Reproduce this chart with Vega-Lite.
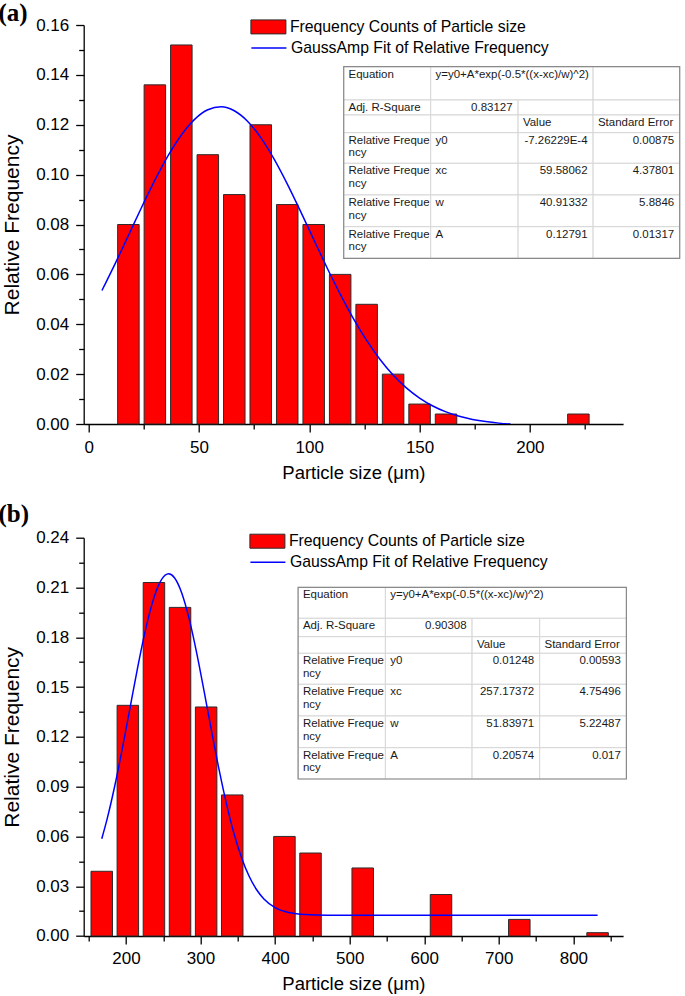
{
  "$schema": "https://vega.github.io/schema/vega-lite/v6.json",
  "background": "white",
  "padding": {"left": -2.3, "top": 0, "right": 0, "bottom": 0},
  "spacing": 19.7,
  "resolve": {"scale": {"fill": "independent", "stroke": "independent"}, "legend": {"fill": "independent", "stroke": "independent"}},
  "config": {
    "view": {"stroke": null},
    "font": "Liberation Sans",
    "axis": {
      "domainColor": "#000000", "domainWidth": 1.3, "tickColor": "#000000", "tickWidth": 1.3,
      "labelColor": "#000000", "titleColor": "#000000", "labelFont": "Liberation Sans", "titleFont": "Liberation Sans",
      "titleFontWeight": "normal", "grid": false, "labelFontSize": 17, "labelPadding": 7, "labelOverlap": false, "labelFlush": false
    },
    "legend": {"labelFont": "Liberation Sans", "labelFontSize": 15.8, "labelColor": "#000000", "labelOffset": 3.5, "labelLimit": 500, "padding": 0, "orient": "none"}
  },
  "datasets": {
    "barsA": [
      {"size": 18, "freq": 0.080}, {"size": 30, "freq": 0.136}, {"size": 42, "freq": 0.152}, {"size": 54, "freq": 0.108},
      {"size": 66, "freq": 0.092}, {"size": 78, "freq": 0.120}, {"size": 90, "freq": 0.088}, {"size": 102, "freq": 0.080},
      {"size": 114, "freq": 0.060}, {"size": 126, "freq": 0.048}, {"size": 138, "freq": 0.020}, {"size": 150, "freq": 0.008},
      {"size": 162, "freq": 0.004}, {"size": 222, "freq": 0.004}
    ],
    "fitA": [
      {"x": 6, "y": 0.05353}, {"x": 12, "y": 0.06432}, {"x": 18, "y": 0.07559}, {"x": 24, "y": 0.08691},
      {"x": 30, "y": 0.09777}, {"x": 36, "y": 0.10761}, {"x": 42, "y": 0.11590}, {"x": 48, "y": 0.12216},
      {"x": 54, "y": 0.12600}, {"x": 60, "y": 0.12718}, {"x": 66, "y": 0.12562}, {"x": 72, "y": 0.12143},
      {"x": 78, "y": 0.11486}, {"x": 84, "y": 0.10632}, {"x": 90, "y": 0.09630}, {"x": 96, "y": 0.08534},
      {"x": 102, "y": 0.07400}, {"x": 108, "y": 0.06277}, {"x": 114, "y": 0.05208}, {"x": 120, "y": 0.04226},
      {"x": 126, "y": 0.03352}, {"x": 132, "y": 0.02598}, {"x": 138, "y": 0.01965}, {"x": 144, "y": 0.01449},
      {"x": 150, "y": 0.01040}, {"x": 156, "y": 0.00723}, {"x": 162, "y": 0.00485}, {"x": 168, "y": 0.00309},
      {"x": 174, "y": 0.00184}, {"x": 180, "y": 0.00096}, {"x": 186, "y": 0.00035}, {"x": 191.2, "y": 0.0}
    ],
    "barsB": [
      {"size": 167.5, "freq": 0.039}, {"size": 202.5, "freq": 0.139}, {"size": 237.5, "freq": 0.213}, {"size": 272.5, "freq": 0.198},
      {"size": 307.5, "freq": 0.138}, {"size": 342.5, "freq": 0.085}, {"size": 412.5, "freq": 0.060}, {"size": 447.5, "freq": 0.050},
      {"size": 517.5, "freq": 0.041}, {"size": 622.5, "freq": 0.025}, {"size": 727.5, "freq": 0.010}, {"size": 832.5, "freq": 0.002}
    ],
    "fitB": [
      {"x": 167.5, "y": 0.05856}, {"x": 175, "y": 0.07106}, {"x": 185, "y": 0.09054}, {"x": 195, "y": 0.11270},
      {"x": 205, "y": 0.13647}, {"x": 215, "y": 0.16026}, {"x": 225, "y": 0.18218}, {"x": 235, "y": 0.20023},
      {"x": 245, "y": 0.21263}, {"x": 255, "y": 0.21804}, {"x": 257.2, "y": 0.21822}, {"x": 265, "y": 0.21589},
      {"x": 275, "y": 0.20641}, {"x": 285, "y": 0.19062}, {"x": 295, "y": 0.17014}, {"x": 305, "y": 0.14691},
      {"x": 315, "y": 0.12292}, {"x": 325, "y": 0.09989}, {"x": 335, "y": 0.07914}, {"x": 345, "y": 0.06147},
      {"x": 355, "y": 0.04716}, {"x": 365, "y": 0.03614}, {"x": 375, "y": 0.02802}, {"x": 385, "y": 0.02232},
      {"x": 400, "y": 0.01710}, {"x": 420, "y": 0.01396}, {"x": 440, "y": 0.01289}, {"x": 470, "y": 0.01253},
      {"x": 520, "y": 0.01248}, {"x": 832.5, "y": 0.01248}
    ],
    "tableA": [
      {"r0": 0, "r1": 1, "c0": 0, "c1": 1, "text": "Equation", "just": "left"},
      {"r0": 0, "r1": 1, "c0": 1, "c1": 3, "text": "y=y0+A*exp(-0.5*((x-xc)/w)^2)", "just": "left"},
      {"r0": 0, "r1": 1, "c0": 3, "c1": 4, "text": "", "just": "none"},
      {"r0": 1, "r1": 2, "c0": 0, "c1": 1, "text": "Adj. R-Square", "just": "left"},
      {"r0": 1, "r1": 2, "c0": 1, "c1": 2, "text": "0.83127", "just": "right"},
      {"r0": 1, "r1": 2, "c0": 2, "c1": 3, "text": "", "just": "none"},
      {"r0": 1, "r1": 2, "c0": 3, "c1": 4, "text": "", "just": "none"},
      {"r0": 2, "r1": 3, "c0": 0, "c1": 1, "text": "", "just": "none"},
      {"r0": 2, "r1": 3, "c0": 1, "c1": 2, "text": "", "just": "none"},
      {"r0": 2, "r1": 3, "c0": 2, "c1": 3, "text": "Value", "just": "left"},
      {"r0": 2, "r1": 3, "c0": 3, "c1": 4, "text": "Standard Error", "just": "left"},
      {"r0": 3, "r1": 4, "c0": 0, "c1": 1, "text": "Relative Freque\nncy", "just": "left"},
      {"r0": 3, "r1": 4, "c0": 1, "c1": 2, "text": "y0", "just": "left"},
      {"r0": 3, "r1": 4, "c0": 2, "c1": 3, "text": "-7.26229E-4", "just": "right"},
      {"r0": 3, "r1": 4, "c0": 3, "c1": 4, "text": "0.00875", "just": "right"},
      {"r0": 4, "r1": 5, "c0": 0, "c1": 1, "text": "Relative Freque\nncy", "just": "left"},
      {"r0": 4, "r1": 5, "c0": 1, "c1": 2, "text": "xc", "just": "left"},
      {"r0": 4, "r1": 5, "c0": 2, "c1": 3, "text": "59.58062", "just": "right"},
      {"r0": 4, "r1": 5, "c0": 3, "c1": 4, "text": "4.37801", "just": "right"},
      {"r0": 5, "r1": 6, "c0": 0, "c1": 1, "text": "Relative Freque\nncy", "just": "left"},
      {"r0": 5, "r1": 6, "c0": 1, "c1": 2, "text": "w", "just": "left"},
      {"r0": 5, "r1": 6, "c0": 2, "c1": 3, "text": "40.91332", "just": "right"},
      {"r0": 5, "r1": 6, "c0": 3, "c1": 4, "text": "5.8846", "just": "right"},
      {"r0": 6, "r1": 7, "c0": 0, "c1": 1, "text": "Relative Freque\nncy", "just": "left"},
      {"r0": 6, "r1": 7, "c0": 1, "c1": 2, "text": "A", "just": "left"},
      {"r0": 6, "r1": 7, "c0": 2, "c1": 3, "text": "0.12791", "just": "right"},
      {"r0": 6, "r1": 7, "c0": 3, "c1": 4, "text": "0.01317", "just": "right"}
    ],
    "tableB": [
      {"r0": 0, "r1": 1, "c0": 0, "c1": 1, "text": "Equation", "just": "left"},
      {"r0": 0, "r1": 1, "c0": 1, "c1": 4, "text": "y=y0+A*exp(-0.5*((x-xc)/w)^2)", "just": "left"},
      {"r0": 1, "r1": 2, "c0": 0, "c1": 1, "text": "Adj. R-Square", "just": "left"},
      {"r0": 1, "r1": 2, "c0": 1, "c1": 2, "text": "0.90308", "just": "right"},
      {"r0": 1, "r1": 2, "c0": 2, "c1": 3, "text": "", "just": "none"},
      {"r0": 1, "r1": 2, "c0": 3, "c1": 4, "text": "", "just": "none"},
      {"r0": 2, "r1": 3, "c0": 0, "c1": 1, "text": "", "just": "none"},
      {"r0": 2, "r1": 3, "c0": 1, "c1": 2, "text": "", "just": "none"},
      {"r0": 2, "r1": 3, "c0": 2, "c1": 3, "text": "Value", "just": "left"},
      {"r0": 2, "r1": 3, "c0": 3, "c1": 4, "text": "Standard Error", "just": "left"},
      {"r0": 3, "r1": 4, "c0": 0, "c1": 1, "text": "Relative Freque\nncy", "just": "left"},
      {"r0": 3, "r1": 4, "c0": 1, "c1": 2, "text": "y0", "just": "left"},
      {"r0": 3, "r1": 4, "c0": 2, "c1": 3, "text": "0.01248", "just": "right"},
      {"r0": 3, "r1": 4, "c0": 3, "c1": 4, "text": "0.00593", "just": "right"},
      {"r0": 4, "r1": 5, "c0": 0, "c1": 1, "text": "Relative Freque\nncy", "just": "left"},
      {"r0": 4, "r1": 5, "c0": 1, "c1": 2, "text": "xc", "just": "left"},
      {"r0": 4, "r1": 5, "c0": 2, "c1": 3, "text": "257.17372", "just": "right"},
      {"r0": 4, "r1": 5, "c0": 3, "c1": 4, "text": "4.75496", "just": "right"},
      {"r0": 5, "r1": 6, "c0": 0, "c1": 1, "text": "Relative Freque\nncy", "just": "left"},
      {"r0": 5, "r1": 6, "c0": 1, "c1": 2, "text": "w", "just": "left"},
      {"r0": 5, "r1": 6, "c0": 2, "c1": 3, "text": "51.83971", "just": "right"},
      {"r0": 5, "r1": 6, "c0": 3, "c1": 4, "text": "5.22487", "just": "right"},
      {"r0": 6, "r1": 7, "c0": 0, "c1": 1, "text": "Relative Freque\nncy", "just": "left"},
      {"r0": 6, "r1": 7, "c0": 1, "c1": 2, "text": "A", "just": "left"},
      {"r0": 6, "r1": 7, "c0": 2, "c1": 3, "text": "0.20574", "just": "right"},
      {"r0": 6, "r1": 7, "c0": 3, "c1": 4, "text": "0.017", "just": "right"}
    ],
    "frame": [{"r0": 0, "r1": 7, "c0": 0, "c1": 4}]
  },
  "vconcat": [
    {
      "title": {"text": "(a)", "anchor": "start", "frame": "bounds", "font": "Liberation Serif", "fontWeight": "bold", "fontSize": 25, "color": "#000000", "offset": -17, "dx": -3.1},
      "width": 539.4,
      "height": 399,
      "resolve": {"scale": {"x": "independent", "y": "independent"}},
      "layer": [
        {
          "resolve": {"axis": {"x": "independent", "y": "independent"}},
          "layer": [
            {
              "data": {"name": "barsA"},
              "mark": {"type": "bar", "width": 21.5, "stroke": "#2b2b2b", "strokeWidth": 1},
              "encoding": {
                "x": {"field": "size", "type": "quantitative", "scale": {"domain": [0, 240], "nice": false, "zero": false},
                  "axis": {"orient": "bottom", "title": "Particle size (μm)", "titleFontSize": 18.5, "titlePadding": 8, "values": [0, 50, 100, 150, 200], "tickSize": 8, "labelFlush": false}},
                "y": {"field": "freq", "type": "quantitative", "scale": {"domain": [0, 0.16], "nice": false},
                  "axis": {"orient": "left", "title": "Relative Frequency", "titleFontSize": 21, "titlePadding": 13, "format": ".2f",
                    "values": [0, 0.02, 0.04, 0.06, 0.08, 0.1, 0.12, 0.14, 0.16], "tickSize": 8, "labelFlush": false}},
                "fill": {"datum": "Frequency Counts of Particle size", "scale": {"range": ["#ff0000"]},
                  "legend": {"orient": "none", "legendX": 166.7, "legendY": -16.1, "title": null,
                    "symbolType": "M-1,-0.4H1V0.4H-1Z", "symbolSize": 1225, "symbolStrokeColor": "#2b2b2b", "symbolStrokeWidth": 1, "symbolFillColor": "#ff0000", "symbolOpacity": 1}}
              }
            },
            {
              "data": {"name": "fitA"},
              "mark": {"type": "line", "strokeWidth": 1.5, "interpolate": "monotone", "clip": true},
              "encoding": {
                "x": {"field": "x", "type": "quantitative",
                  "axis": {"orient": "bottom", "title": null, "labels": false, "domain": false, "values": [25, 75, 125, 175, 225], "tickSize": 5}},
                "y": {"field": "y", "type": "quantitative",
                  "axis": {"orient": "left", "title": null, "labels": false, "domain": false, "values": [0.01, 0.03, 0.05, 0.07, 0.09, 0.11, 0.13, 0.15], "tickSize": 5}},
                "stroke": {"datum": "GaussAmp Fit of Relative Frequency", "scale": {"range": ["#0000ff"]},
                  "legend": {"orient": "none", "legendX": 166.7, "legendY": 4.5, "title": null,
                    "symbolType": "stroke", "symbolSize": 1225, "symbolStrokeWidth": 1.5, "symbolOpacity": 1}}
              }
            }
          ]
        },
        {
          "layer": [
            {
              "data": {"name": "tableA"},
              "mark": {"type": "rect", "fill": "#ffffff", "stroke": "#d6d6d6", "strokeWidth": 1},
              "encoding": {
                "x": {"field": "c0", "type": "quantitative", "axis": null, "scale": {"domain": [0, 1, 2, 3, 4], "range": [260, 347, 434.4, 509.4, 596], "nice": false, "zero": false}},
                "x2": {"field": "c1"},
                "y": {"field": "r0", "type": "quantitative", "axis": null, "scale": {"domain": [0, 1, 2, 3, 4, 5, 6, 7], "range": [41.7, 75, 90, 107.7, 138.3, 170, 201.7, 233.3], "nice": false, "zero": false}},
                "y2": {"field": "r1"}
              }
            },
            {
              "data": {"name": "frame"},
              "mark": {"type": "rect", "fill": null, "stroke": "#8a8a8a", "strokeWidth": 1.2},
              "encoding": {
                "x": {"field": "c0", "type": "quantitative"},
                "x2": {"field": "c1"},
                "y": {"field": "r0", "type": "quantitative"},
                "y2": {"field": "r1"}
              }
            },
            {
              "data": {"name": "tableA"},
              "transform": [{"filter": "datum.just === 'left'"}],
              "mark": {"type": "text", "align": "left", "baseline": "alphabetic", "dx": 4.8, "dy": 11, "font": "Liberation Sans", "fontSize": 11.5, "color": "#1a1a1a", "lineBreak": "\n", "lineHeight": 12.7},
              "encoding": {
                "x": {"field": "c0", "type": "quantitative"},
                "y": {"field": "r0", "type": "quantitative"},
                "text": {"field": "text"}
              }
            },
            {
              "data": {"name": "tableA"},
              "transform": [{"filter": "datum.just === 'right'"}],
              "mark": {"type": "text", "align": "right", "baseline": "alphabetic", "dx": -5.5, "dy": 11, "font": "Liberation Sans", "fontSize": 11.5, "color": "#1a1a1a"},
              "encoding": {
                "x": {"field": "c1", "type": "quantitative"},
                "y": {"field": "r0", "type": "quantitative"},
                "text": {"field": "text"}
              }
            }
          ]
        }
      ]
    },
    {
      "title": {"text": "(b)", "anchor": "start", "frame": "bounds", "font": "Liberation Serif", "fontWeight": "bold", "fontSize": 25, "color": "#000000", "offset": -3.8, "dx": -3.1},
      "width": 539.4,
      "height": 398.3,
      "resolve": {"scale": {"x": "independent", "y": "independent"}},
      "layer": [
        {
          "resolve": {"axis": {"x": "independent", "y": "independent"}},
          "layer": [
            {
              "data": {"name": "barsB"},
              "mark": {"type": "bar", "width": 21.5, "stroke": "#2b2b2b", "strokeWidth": 1},
              "encoding": {
                "x": {"field": "size", "type": "quantitative", "scale": {"domain": [150, 860], "nice": false, "zero": false},
                  "axis": {"orient": "bottom", "title": "Particle size (μm)", "titleFontSize": 18.5, "titlePadding": 8, "values": [200, 300, 400, 500, 600, 700, 800], "tickSize": 8, "labelFlush": false}},
                "y": {"field": "freq", "type": "quantitative", "scale": {"domain": [0, 0.24], "nice": false},
                  "axis": {"orient": "left", "title": "Relative Frequency", "titleFontSize": 21, "titlePadding": 13, "format": ".2f",
                    "values": [0, 0.03, 0.06, 0.09, 0.12, 0.15, 0.18, 0.21, 0.24], "tickSize": 8, "labelFlush": false}},
                "fill": {"datum": "Frequency Counts of Particle size", "scale": {"range": ["#ff0000"]},
                  "legend": {"orient": "none", "legendX": 165.7, "legendY": -14.5, "title": null,
                    "symbolType": "M-1,-0.4H1V0.4H-1Z", "symbolSize": 1225, "symbolStrokeColor": "#2b2b2b", "symbolStrokeWidth": 1, "symbolFillColor": "#ff0000", "symbolOpacity": 1}}
              }
            },
            {
              "data": {"name": "fitB"},
              "mark": {"type": "line", "strokeWidth": 1.5, "interpolate": "monotone", "clip": true},
              "encoding": {
                "x": {"field": "x", "type": "quantitative",
                  "axis": {"orient": "bottom", "title": null, "labels": false, "domain": false, "values": [150, 250, 350, 450, 550, 650, 750, 850], "tickSize": 5}},
                "y": {"field": "y", "type": "quantitative",
                  "axis": {"orient": "left", "title": null, "labels": false, "domain": false, "values": [0.015, 0.045, 0.075, 0.105, 0.135, 0.165, 0.195, 0.225], "tickSize": 5}},
                "stroke": {"datum": "GaussAmp Fit of Relative Frequency", "scale": {"range": ["#0000ff"]},
                  "legend": {"orient": "none", "legendX": 165.7, "legendY": 6.1, "title": null,
                    "symbolType": "stroke", "symbolSize": 1225, "symbolStrokeWidth": 1.5, "symbolOpacity": 1}}
              }
            }
          ]
        },
        {
          "layer": [
            {
              "data": {"name": "tableB"},
              "mark": {"type": "rect", "fill": "#ffffff", "stroke": "#d6d6d6", "strokeWidth": 1},
              "encoding": {
                "x": {"field": "c0", "type": "quantitative", "axis": null, "scale": {"domain": [0, 1, 2, 3, 4], "range": [214.4, 301.7, 388.4, 456, 542.7], "nice": false, "zero": false}},
                "x2": {"field": "c1"},
                "y": {"field": "r0", "type": "quantitative", "axis": null, "scale": {"domain": [0, 1, 2, 3, 4, 5, 6, 7], "range": [49.6, 80.6, 99, 115.6, 146.6, 178.3, 210, 241.3], "nice": false, "zero": false}},
                "y2": {"field": "r1"}
              }
            },
            {
              "data": {"name": "frame"},
              "mark": {"type": "rect", "fill": null, "stroke": "#8a8a8a", "strokeWidth": 1.2},
              "encoding": {
                "x": {"field": "c0", "type": "quantitative"},
                "x2": {"field": "c1"},
                "y": {"field": "r0", "type": "quantitative"},
                "y2": {"field": "r1"}
              }
            },
            {
              "data": {"name": "tableB"},
              "transform": [{"filter": "datum.just === 'left'"}],
              "mark": {"type": "text", "align": "left", "baseline": "alphabetic", "dx": 4.8, "dy": 11, "font": "Liberation Sans", "fontSize": 11.5, "color": "#1a1a1a", "lineBreak": "\n", "lineHeight": 12.7},
              "encoding": {
                "x": {"field": "c0", "type": "quantitative"},
                "y": {"field": "r0", "type": "quantitative"},
                "text": {"field": "text"}
              }
            },
            {
              "data": {"name": "tableB"},
              "transform": [{"filter": "datum.just === 'right'"}],
              "mark": {"type": "text", "align": "right", "baseline": "alphabetic", "dx": -5.5, "dy": 11, "font": "Liberation Sans", "fontSize": 11.5, "color": "#1a1a1a"},
              "encoding": {
                "x": {"field": "c1", "type": "quantitative"},
                "y": {"field": "r0", "type": "quantitative"},
                "text": {"field": "text"}
              }
            }
          ]
        }
      ]
    }
  ]
}
